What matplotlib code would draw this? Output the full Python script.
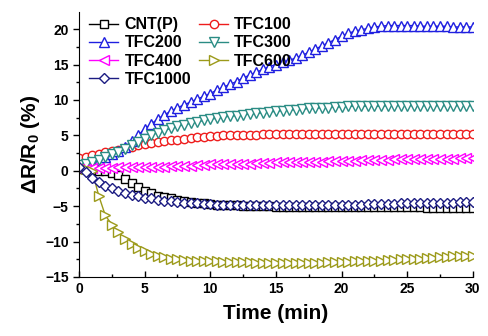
import numpy as np
import matplotlib
matplotlib.use("Agg")
import matplotlib.pyplot as plt

plt.rcParams['font.family'] = ['Liberation Sans', 'DejaVu Sans']
plt.rcParams['font.weight'] = 'bold'
plt.rcParams['mathtext.fontset'] = 'custom'
plt.rcParams['mathtext.rm'] = 'Liberation Sans:bold'
plt.rcParams['mathtext.default'] = 'regular'

# ===============================
# DATA, time step 0.5 min
# ===============================
time_min = np.linspace(0, 30, 61)

cnt_p = [0.3, 0.2, 0.1, 0.0, -0.1, -0.3, -0.6, -1.1, -1.7, -2.3,
         -2.8, -3.1, -3.5, -3.7, -3.9, -4.1, -4.3, -4.4, -4.5, -4.6,
         -4.7, -4.8, -4.8, -4.9, -4.9, -5.0, -5.0, -5.0, -5.0, -5.0,
         -5.1, -5.1, -5.1, -5.1, -5.1, -5.1, -5.1, -5.1, -5.1, -5.1,
         -5.1, -5.1, -5.1, -5.1, -5.1, -5.1, -5.1, -5.1, -5.1, -5.1,
         -5.1, -5.1, -5.1, -5.2, -5.2, -5.2, -5.2, -5.2, -5.2, -5.2, -5.2]

tfc100 = [1.8, 2.0, 2.2, 2.4, 2.6, 2.8, 3.0, 3.2, 3.4, 3.6,
          3.8, 3.9, 4.0, 4.2, 4.3, 4.4, 4.5, 4.6, 4.7, 4.8,
          4.9, 4.9, 5.0, 5.0, 5.1, 5.1, 5.1, 5.1, 5.2, 5.2,
          5.2, 5.2, 5.2, 5.2, 5.2, 5.2, 5.2, 5.2, 5.2, 5.2,
          5.2, 5.2, 5.2, 5.2, 5.2, 5.2, 5.2, 5.2, 5.2, 5.2,
          5.2, 5.2, 5.2, 5.2, 5.2, 5.2, 5.2, 5.2, 5.2, 5.2, 5.2]

tfc200 = [0.8, 1.0, 1.2, 1.5, 1.9, 2.3, 2.8, 3.4, 4.2, 5.0,
          5.9, 6.6, 7.3, 7.9, 8.4, 8.9, 9.3, 9.7, 10.1, 10.5,
          10.9, 11.4, 11.8, 12.2, 12.6, 13.1, 13.5, 13.9, 14.3, 14.7,
          15.0, 15.3, 15.6, 15.9, 16.3, 16.7, 17.2, 17.6, 18.1, 18.5,
          19.0, 19.4, 19.7, 19.9, 20.1, 20.3, 20.4, 20.5, 20.5, 20.5,
          20.5, 20.5, 20.4, 20.4, 20.4, 20.4, 20.4, 20.3, 20.3, 20.3, 20.3]

tfc300 = [0.8, 1.0, 1.2, 1.5, 1.9, 2.3, 2.7, 3.1, 3.6, 4.1,
          4.5, 5.0, 5.4, 5.7, 6.0, 6.3, 6.5, 6.7, 6.9, 7.1,
          7.3, 7.4, 7.6, 7.7, 7.8, 7.9, 8.0, 8.1, 8.2, 8.3,
          8.4, 8.5, 8.6, 8.6, 8.7, 8.8, 8.8, 8.9, 8.9, 9.0,
          9.0, 9.1, 9.1, 9.1, 9.1, 9.1, 9.1, 9.2, 9.2, 9.2,
          9.2, 9.2, 9.2, 9.2, 9.2, 9.2, 9.2, 9.2, 9.2, 9.2, 9.2]

tfc400 = [0.3, 0.3, 0.4, 0.4, 0.4, 0.4, 0.5, 0.5, 0.5, 0.5,
          0.6, 0.6, 0.6, 0.6, 0.7, 0.7, 0.7, 0.7, 0.8, 0.8,
          0.9, 0.9, 0.9, 0.9, 1.0, 1.0, 1.0, 1.1, 1.1, 1.1,
          1.2, 1.2, 1.2, 1.2, 1.3, 1.3, 1.3, 1.3, 1.4, 1.4,
          1.4, 1.4, 1.4, 1.5, 1.5, 1.5, 1.5, 1.5, 1.6, 1.6,
          1.6, 1.6, 1.6, 1.7, 1.7, 1.7, 1.7, 1.7, 1.8, 1.8, 1.8]

tfc600 = [0.5, 0.3, 0.0, -3.5, -6.3, -7.6, -8.7, -9.6, -10.3, -10.9,
          -11.3, -11.7, -12.0, -12.2, -12.4, -12.5, -12.6, -12.7, -12.7, -12.8,
          -12.8, -12.8, -12.9, -12.9, -12.9, -12.9, -12.9, -13.0, -13.0, -13.0,
          -13.0, -13.0, -13.0, -13.0, -13.0, -13.0, -13.0, -13.0, -12.9, -12.9,
          -12.9, -12.9, -12.8, -12.8, -12.8, -12.7, -12.7, -12.6, -12.6, -12.5,
          -12.5, -12.4, -12.4, -12.3, -12.3, -12.2, -12.2, -12.1, -12.1, -12.0, -12.0]

tfc1000 = [0.5, -0.2, -1.0, -1.6, -2.1, -2.5, -2.8, -3.1, -3.4, -3.6,
           -3.8, -3.9, -4.1, -4.2, -4.3, -4.4, -4.5, -4.5, -4.6, -4.7,
           -4.7, -4.8, -4.8, -4.8, -4.8, -4.8, -4.8, -4.9, -4.9, -4.9,
           -4.9, -4.9, -4.9, -4.9, -4.9, -4.9, -4.9, -4.8, -4.8, -4.8,
           -4.8, -4.8, -4.8, -4.8, -4.7, -4.7, -4.7, -4.7, -4.7, -4.6,
           -4.6, -4.6, -4.6, -4.5, -4.5, -4.5, -4.5, -4.5, -4.4, -4.4, -4.4]

labels = ["CNT(P)", "TFC100", "TFC200", "TFC300", "TFC400", "TFC600", "TFC1000"]
series = [cnt_p, tfc100, tfc200, tfc300, tfc400, tfc600, tfc1000]
colors = ["#000000", "#ee1c1c", "#1f1fe0", "#2a8c84", "#ff00ff", "#9c9a1a", "#1c1c82"]
markers = ["s", "o", "^", "v", "<", ">", "D"]
msizes = [6, 6, 7, 7, 7, 7, 5.5]

# ===============================
# PLOTTING
# ===============================
fig = plt.figure(figsize=(4.89, 3.36), dpi=100)
ax = fig.add_axes([0.1616, 0.1756, 0.8054, 0.7884])

handles = []
for y, lab, c, m, ms in zip(series, labels, colors, markers, msizes):
    h, = ax.plot(time_min, y, color=c, marker=m, markersize=ms, markerfacecolor='white',
                 markeredgecolor=c, markeredgewidth=1.0, linewidth=1.0, label=lab)
    handles.append(h)

ax.set_xlim(0, 30)
ax.set_ylim(-15, 22.4)
ax.set_xticks(np.arange(0, 31, 5))
ax.set_yticks(np.arange(-15, 21, 5))
ax.set_xticks(np.arange(2.5, 30, 5), minor=True)
ax.set_yticks(np.arange(-12.5, 21, 5), minor=True)
ax.tick_params(axis='x', which='both', direction='in', labelsize=10, width=1)
ax.tick_params(axis='x', which='major', length=4)
ax.tick_params(axis='x', which='minor', length=2.5)
ax.tick_params(axis='y', which='both', direction='out', labelsize=10, width=1)
ax.tick_params(axis='y', which='major', length=4)
ax.tick_params(axis='y', which='minor', length=2.5)
for lbl in ax.get_xticklabels() + ax.get_yticklabels():
    lbl.set_fontweight('bold')

ax.spines['top'].set_visible(False)
ax.spines['right'].set_visible(False)

ax.set_xlabel("Time (min)", fontsize=15, fontweight='bold', labelpad=6)
ax.set_ylabel("ΔR/R$_0$ (%)", fontsize=15, fontweight='bold', labelpad=2)

order = [0, 2, 4, 6, 1, 3, 5]
ax.legend([handles[i] for i in order], [labels[i] for i in order], ncol=2,
          loc='upper left', bbox_to_anchor=(-0.01, 1.035), frameon=False,
          prop={'size': 11.5, 'weight': 'bold'}, handlelength=1.8,
          columnspacing=0.5, labelspacing=0.2, handletextpad=0.4)

fig.savefig("out.png", dpi=100)
